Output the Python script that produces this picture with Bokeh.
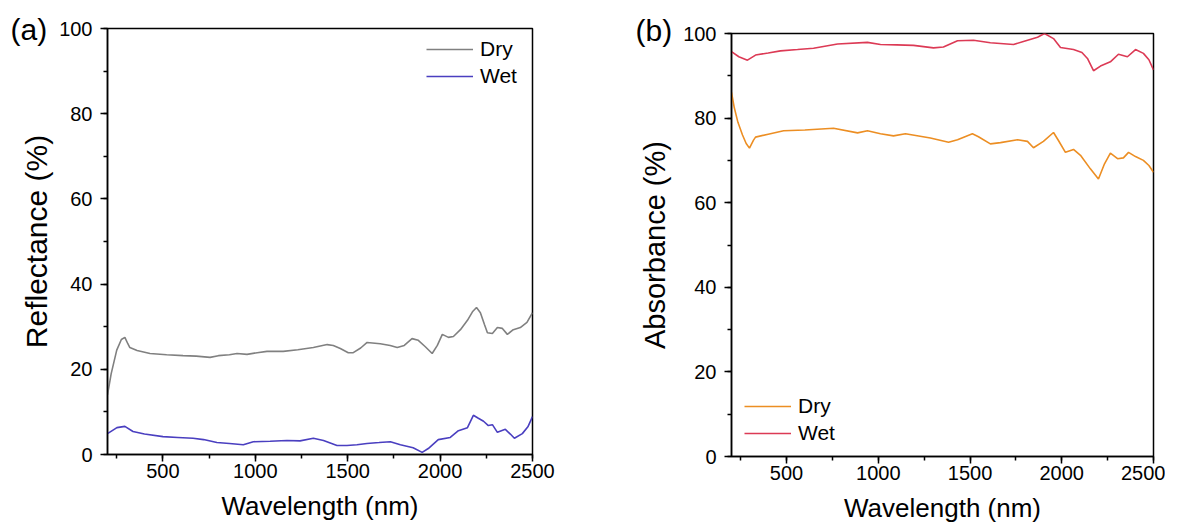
from bokeh.plotting import figure
from bokeh.models import Range1d, FixedTicker, Legend, LegendItem, Title
from bokeh.layouts import row, column
from bokeh.embed import file_html
from bokeh.resources import INLINE

# ---------------- data ----------------
x_ticks = [500, 1000, 1500, 2000, 2500]
x_minor = [250, 500, 750, 1000, 1250, 1500, 1750, 2000, 2250, 2500]
y_ticks = [0, 20, 40, 60, 80, 100]
y_minor = [0, 10, 20, 30, 40, 50, 60, 70, 80, 90, 100]

refl_dry_x = [200, 220, 250, 275, 294, 310, 321, 360, 430, 520, 609, 680, 755, 800, 860, 901, 955,
              1010, 1063, 1151, 1230, 1314, 1389, 1422, 1460, 1503, 1530, 1570, 1605, 1676, 1730,
              1768, 1806, 1848, 1882, 1920, 1957, 1985, 2012, 2045, 2072, 2110, 2148, 2175, 2197,
              2218, 2240, 2256, 2283, 2310, 2337, 2364, 2396, 2434, 2470, 2500]
refl_dry_y = [14.0, 19.0, 24.5, 27.0, 27.5, 26.0, 25.1, 24.4, 23.7, 23.4, 23.2, 23.1, 22.8, 23.2,
              23.4, 23.7, 23.5, 23.9, 24.2, 24.2, 24.6, 25.1, 25.8, 25.6, 24.9, 23.9, 23.9, 25.0,
              26.3, 26.0, 25.6, 25.1, 25.6, 27.2, 26.8, 25.3, 23.7, 25.6, 28.2, 27.5, 27.7, 29.3,
              31.5, 33.5, 34.5, 33.3, 30.5, 28.6, 28.4, 29.8, 29.6, 28.2, 29.3, 29.8, 31.0, 33.3]

refl_wet_x = [200, 251, 294, 338, 400, 500, 580, 663, 720, 792, 860, 935, 989, 1080, 1171, 1242,
              1314, 1369, 1442, 1496, 1550, 1604, 1670, 1731, 1785, 1854, 1903, 1936, 1990, 2055,
              2099, 2148, 2180, 2207, 2235, 2261, 2283, 2310, 2353, 2380, 2402, 2445, 2475, 2500]
refl_wet_y = [4.9, 6.3, 6.6, 5.4, 4.8, 4.2, 4.0, 3.8, 3.5, 2.8, 2.6, 2.3, 3.0, 3.1, 3.3, 3.2, 3.8,
              3.3, 2.1, 2.1, 2.3, 2.6, 2.8, 3.0, 2.3, 1.6, 0.5, 1.4, 3.5, 4.0, 5.6, 6.3, 9.2, 8.5,
              7.8, 6.8, 7.0, 5.2, 5.9, 4.8, 3.8, 4.9, 6.5, 8.9]

abs_dry_x = [200, 215, 235, 260, 280, 298, 320, 331, 400, 484, 600, 756, 887, 941, 1012, 1083,
             1148, 1284, 1383, 1432, 1513, 1546, 1611, 1666, 1759, 1813, 1846, 1900, 1955, 1982,
             2020, 2064, 2102, 2156, 2200, 2233, 2265, 2304, 2336, 2364, 2402, 2445, 2475, 2500]
abs_dry_y = [86.1, 82.5, 79.0, 76.0, 74.0, 72.9, 74.8, 75.5, 76.2, 77.0, 77.2, 77.6, 76.5, 77.0,
             76.3, 75.8, 76.3, 75.3, 74.3, 74.9, 76.3, 75.6, 73.9, 74.2, 74.9, 74.5, 73.0, 74.5,
             76.6, 74.7, 71.9, 72.6, 71.2, 68.0, 65.6, 69.2, 71.7, 70.4, 70.6, 71.9, 70.9, 70.0,
             68.8, 67.2]

abs_wet_x = [200, 240, 287, 331, 400, 467, 560, 647, 778, 941, 1012, 1100, 1192, 1301, 1355, 1432,
             1519, 1611, 1737, 1791, 1868, 1906, 1955, 1993, 2064, 2110, 2140, 2173, 2211, 2265,
             2309, 2358, 2402, 2445, 2475, 2500]
abs_wet_y = [95.7, 94.5, 93.7, 94.9, 95.4, 95.9, 96.2, 96.5, 97.5, 97.9, 97.4, 97.3, 97.2, 96.6,
             96.8, 98.3, 98.4, 97.8, 97.4, 98.1, 99.1, 100.0, 98.8, 96.7, 96.2, 95.5, 94.1, 91.2,
             92.3, 93.3, 95.1, 94.5, 96.2, 95.3, 93.8, 91.4]

FONT = "Liberation Sans"


def make_fig(ylabel, fw, fh, bl, bt, br, bb, ylab_standoff, ylab_size):
    p = figure(output_backend="svg", toolbar_location=None,
               frame_width=fw, frame_height=fh,
               min_border_left=bl, min_border_top=bt, min_border_right=br, min_border_bottom=bb,
               x_range=Range1d(200, 2500), y_range=Range1d(0, 100))
    p.grid.visible = False
    p.outline_line_color = "black"
    p.outline_line_width = 1.5
    p.background_fill_color = "white"
    p.border_fill_color = "white"
    p.xaxis.ticker = FixedTicker(ticks=x_ticks, minor_ticks=x_minor)
    p.yaxis.ticker = FixedTicker(ticks=y_ticks, minor_ticks=y_minor)
    for ax in (p.xaxis[0], p.yaxis[0]):
        ax.axis_line_width = 1.5
        ax.axis_line_color = "black"
        ax.major_tick_line_width = 1.5
        ax.minor_tick_line_width = 1.5
        ax.major_tick_out = 7
        ax.major_tick_in = 0
        ax.minor_tick_out = 4
        ax.minor_tick_in = 0
        ax.major_label_text_font = FONT
        ax.major_label_text_font_size = "20px"
        ax.major_label_text_color = "black"
        ax.axis_label_text_font = FONT
        ax.axis_label_text_font_style = "normal"
        ax.axis_label_text_color = "black"
    p.xaxis.axis_label_text_font_size = "26px"
    p.yaxis.axis_label_text_font_size = ylab_size
    p.xaxis.axis_label = "Wavelength (nm)"
    p.yaxis.axis_label = ylabel
    p.xaxis.major_label_standoff = 2
    p.xaxis.axis_label_standoff = 10
    p.yaxis.major_label_standoff = 8
    p.yaxis.axis_label_standoff = ylab_standoff
    return p


def make_legend(items, loc):
    return Legend(items=items, location=loc, padding=0, margin=0, spacing=3,
                  glyph_width=47, glyph_height=20, label_height=20, label_standoff=7,
                  label_text_font=FONT, label_text_font_size="21px", label_text_color="black",
                  border_line_alpha=0, background_fill_alpha=0)


def panel_tag(text, offset, standoff):
    return Title(text=text, align="left", offset=offset, standoff=standoff,
                 text_font=FONT, text_font_size="30px", text_font_style="normal",
                 text_color="black", vertical_align="bottom")


# ---------------- panel (a) ----------------
pa = make_fig("Reflectance (%)", 425, 426, 107, 28, 30, 74, 3, "30px")
la = pa.line(refl_dry_x, refl_dry_y, line_color="#808080", line_width=1.6)
lb = pa.line(refl_wet_x, refl_wet_y, line_color="#4a3fc0", line_width=1.6)
pa.add_layout(make_legend([LegendItem(label="Dry", renderers=[la]),
                           LegendItem(label="Wet", renderers=[lb])], (319, 366)), "center")
pa.add_layout(panel_tag("(a)", -97, -34), "above")

# ---------------- panel (b) ----------------
pb = make_fig("Absorbance (%)", 422, 423, 169, 33, 12, 72, 9, "29px")
lc = pb.line(abs_dry_x, abs_dry_y, line_color="#ec8e23", line_width=1.6)
ld = pb.line(abs_wet_x, abs_wet_y, line_color="#dc3a55", line_width=1.6)
pb.add_layout(make_legend([LegendItem(label="Dry", renderers=[lc]),
                           LegendItem(label="Wet", renderers=[ld])], (13, 11)), "center")
pb.add_layout(panel_tag("(b)", -96, -27), "above")

layout = row(column(pa), column(pb))
open("out.html", "w").write(file_html(layout, INLINE))
